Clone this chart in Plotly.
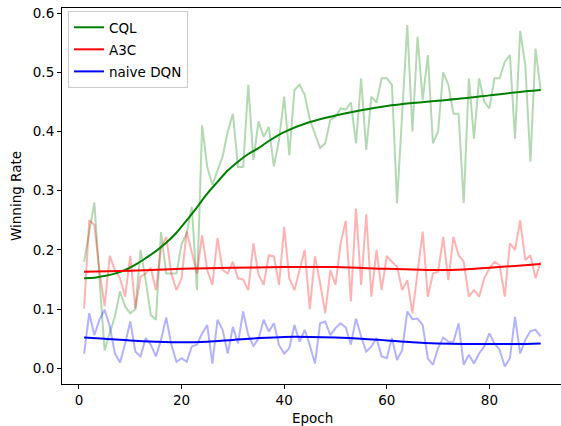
import plotly.graph_objects as go

epochs = list(range(1, 91))

cql_raw = [0.18, 0.23, 0.28, 0.15, 0.03, 0.06, 0.087, 0.13, 0.104, 0.093,
           0.10, 0.20, 0.149, 0.09, 0.082, 0.23, 0.16, 0.16, 0.16, 0.21,
           0.228, 0.273, 0.132, 0.41, 0.34, 0.31, 0.335, 0.358, 0.40, 0.43,
           0.34, 0.34, 0.479, 0.352, 0.417, 0.391, 0.408, 0.341, 0.386, 0.459,
           0.36, 0.47, 0.479, 0.462, 0.42, 0.397, 0.372, 0.38, 0.42, 0.425,
           0.439, 0.437, 0.449, 0.38, 0.49, 0.369, 0.459, 0.449, 0.49, 0.49,
           0.479, 0.279, 0.43, 0.58, 0.40, 0.56, 0.453, 0.529, 0.38, 0.40,
           0.50, 0.479, 0.43, 0.43, 0.279, 0.49, 0.388, 0.49, 0.45, 0.439,
           0.49, 0.49, 0.518, 0.529, 0.388, 0.57, 0.512, 0.349, 0.54, 0.47]

a3c_raw = [0.101, 0.25, 0.242, 0.165, 0.105, 0.19, 0.166, 0.152, 0.121, 0.19,
           0.101, 0.155, 0.16, 0.17, 0.132, 0.203, 0.222, 0.16, 0.132, 0.152,
           0.231, 0.194, 0.16, 0.225, 0.166, 0.141, 0.22, 0.166, 0.16, 0.18,
           0.152, 0.15, 0.132, 0.211, 0.158, 0.141, 0.191, 0.189, 0.141, 0.239,
           0.152, 0.132, 0.166, 0.2, 0.1, 0.189, 0.144, 0.093, 0.166, 0.141,
           0.211, 0.249, 0.113, 0.27, 0.141, 0.26, 0.121, 0.2, 0.132, 0.19,
           0.18, 0.172, 0.132, 0.149, 0.093, 0.16, 0.231, 0.121, 0.16, 0.163,
           0.222, 0.149, 0.222, 0.191, 0.18, 0.121, 0.132, 0.121, 0.152, 0.169,
           0.18, 0.174, 0.121, 0.211, 0.2, 0.25, 0.183, 0.191, 0.152, 0.18]

dqn_raw = [0.025, 0.093, 0.056, 0.082, 0.099, 0.071, 0.025, 0.01, 0.042, 0.079,
           0.028, 0.02, 0.051, 0.04, 0.02, 0.048, 0.086, 0.04, 0.011, 0.017,
           0.011, 0.037, 0.04, 0.059, 0.073, 0.008, 0.082, 0.065, 0.025, 0.07,
           0.042, 0.096, 0.056, 0.038, 0.05, 0.082, 0.062, 0.076, 0.039, 0.025,
           0.034, 0.073, 0.045, 0.065, 0.039, 0.008, 0.076, 0.079, 0.056, 0.068,
           0.076, 0.069, 0.04, 0.084, 0.054, 0.028, 0.037, 0.051, 0.02, 0.017,
           0.051, 0.014, 0.031, 0.096, 0.083, 0.084, 0.073, 0.017, 0.006, 0.034,
           0.052, 0.045, 0.045, 0.076, 0.006, 0.023, 0.008, 0.025, 0.037, 0.059,
           0.042, 0.031, 0.003, 0.017, 0.087, 0.025, 0.048, 0.063, 0.065, 0.054]

# smoothed curves read at anchor epochs
cql_smooth_x = [1, 3, 5, 7, 9, 11, 13, 15, 17, 19, 21, 23, 25, 27, 29, 31, 33, 35,
                37, 40, 45, 50, 55, 60, 65, 70, 75, 80, 85, 90]
cql_smooth_y = [0.152, 0.153, 0.156, 0.160, 0.166, 0.175, 0.186, 0.198, 0.212, 0.229,
                0.250, 0.272, 0.295, 0.315, 0.334, 0.349, 0.362, 0.372,
                0.384, 0.399, 0.416, 0.427, 0.436, 0.443, 0.448, 0.452, 0.456,
                0.461, 0.466, 0.470]

a3c_smooth_x = [1, 10, 20, 30, 40, 50, 60, 65, 70, 75, 80, 85, 90]
a3c_smooth_y = [0.163, 0.165, 0.168, 0.170, 0.171, 0.171, 0.168, 0.167, 0.166,
                0.167, 0.170, 0.173, 0.176]

dqn_smooth_x = [1, 5, 10, 15, 20, 25, 30, 35, 40, 45, 50, 55, 60, 65, 70, 75, 80, 85, 90]
dqn_smooth_y = [0.052, 0.050, 0.047, 0.045, 0.044, 0.045, 0.048, 0.051, 0.053, 0.053,
                0.052, 0.050, 0.047, 0.044, 0.042, 0.041, 0.041, 0.041, 0.042]

x_ticks = [0, 20, 40, 60, 80]
y_ticks = [0.0, 0.1, 0.2, 0.3, 0.4, 0.5, 0.6]

FONT = "DejaVu Sans"
FS = 13.5

fig = go.Figure()

raw_series = [(cql_raw, "rgba(0,128,0,0.3)"),
              (a3c_raw, "rgba(255,0,0,0.3)"),
              (dqn_raw, "rgba(0,0,255,0.3)")]
for vals, col in raw_series:
    fig.add_trace(go.Scatter(x=epochs, y=vals, mode="lines",
                             line=dict(color=col, width=2),
                             showlegend=False, hoverinfo="skip"))

smooth_series = [("CQL", cql_smooth_x, cql_smooth_y, "#008000"),
                 ("A3C", a3c_smooth_x, a3c_smooth_y, "#ff0000"),
                 ("naive DQN", dqn_smooth_x, dqn_smooth_y, "#0000ff")]
for name, xs, ys, col in smooth_series:
    fig.add_trace(go.Scatter(x=xs, y=ys, mode="lines", name=name, legendgroup=name,
                             line=dict(color=col, width=2, shape="spline", smoothing=1.0)))

axis_common = dict(showgrid=False, zeroline=False, showline=True,
                   linecolor="black", linewidth=1.1, ticks="outside",
                   ticklen=4, tickwidth=1.1, tickcolor="black", automargin=False,
                   tickfont=dict(family=FONT, size=FS, color="black"))

fig.update_layout(
    width=561, height=426,
    margin=dict(l=62, r=0, t=8, b=42),
    paper_bgcolor="white", plot_bgcolor="white",
    font=dict(family=FONT, size=FS, color="black"),
    xaxis=dict(range=[-3.31, 93.96], tickvals=x_ticks,
               ticktext=[str(v) for v in x_ticks], mirror=True,
               **axis_common),
    yaxis=dict(range=[-0.0265, 0.6086], tickvals=y_ticks,
               ticktext=["%.1f" % v for v in y_ticks], mirror=False,
               **axis_common),
    legend=dict(x=0.012, y=0.992, xanchor="left", yanchor="top",
                bgcolor="rgba(255,255,255,0.8)", bordercolor="#cccccc",
                borderwidth=1, font=dict(family=FONT, size=FS),
                itemwidth=30, tracegroupgap=1.5),
    annotations=[
        dict(text="Epoch", xref="paper", yref="paper", x=0.5026, y=-0.0904,
             xanchor="center", yanchor="middle", showarrow=False,
             font=dict(family=FONT, size=FS, color="black")),
        dict(text="Winning Rate", xref="paper", yref="paper", x=-0.0922, y=0.5,
             xanchor="center", yanchor="middle", textangle=-90, showarrow=False,
             font=dict(family=FONT, size=FS, color="black")),
    ],
)

fig.write_html(
    "out.html",
    config={"displayModeBar": False},
    post_script="document.body.style.margin='0';document.body.style.padding='0';"
                "document.body.style.overflow='hidden';"
                "document.documentElement.style.overflow='hidden';",
)
